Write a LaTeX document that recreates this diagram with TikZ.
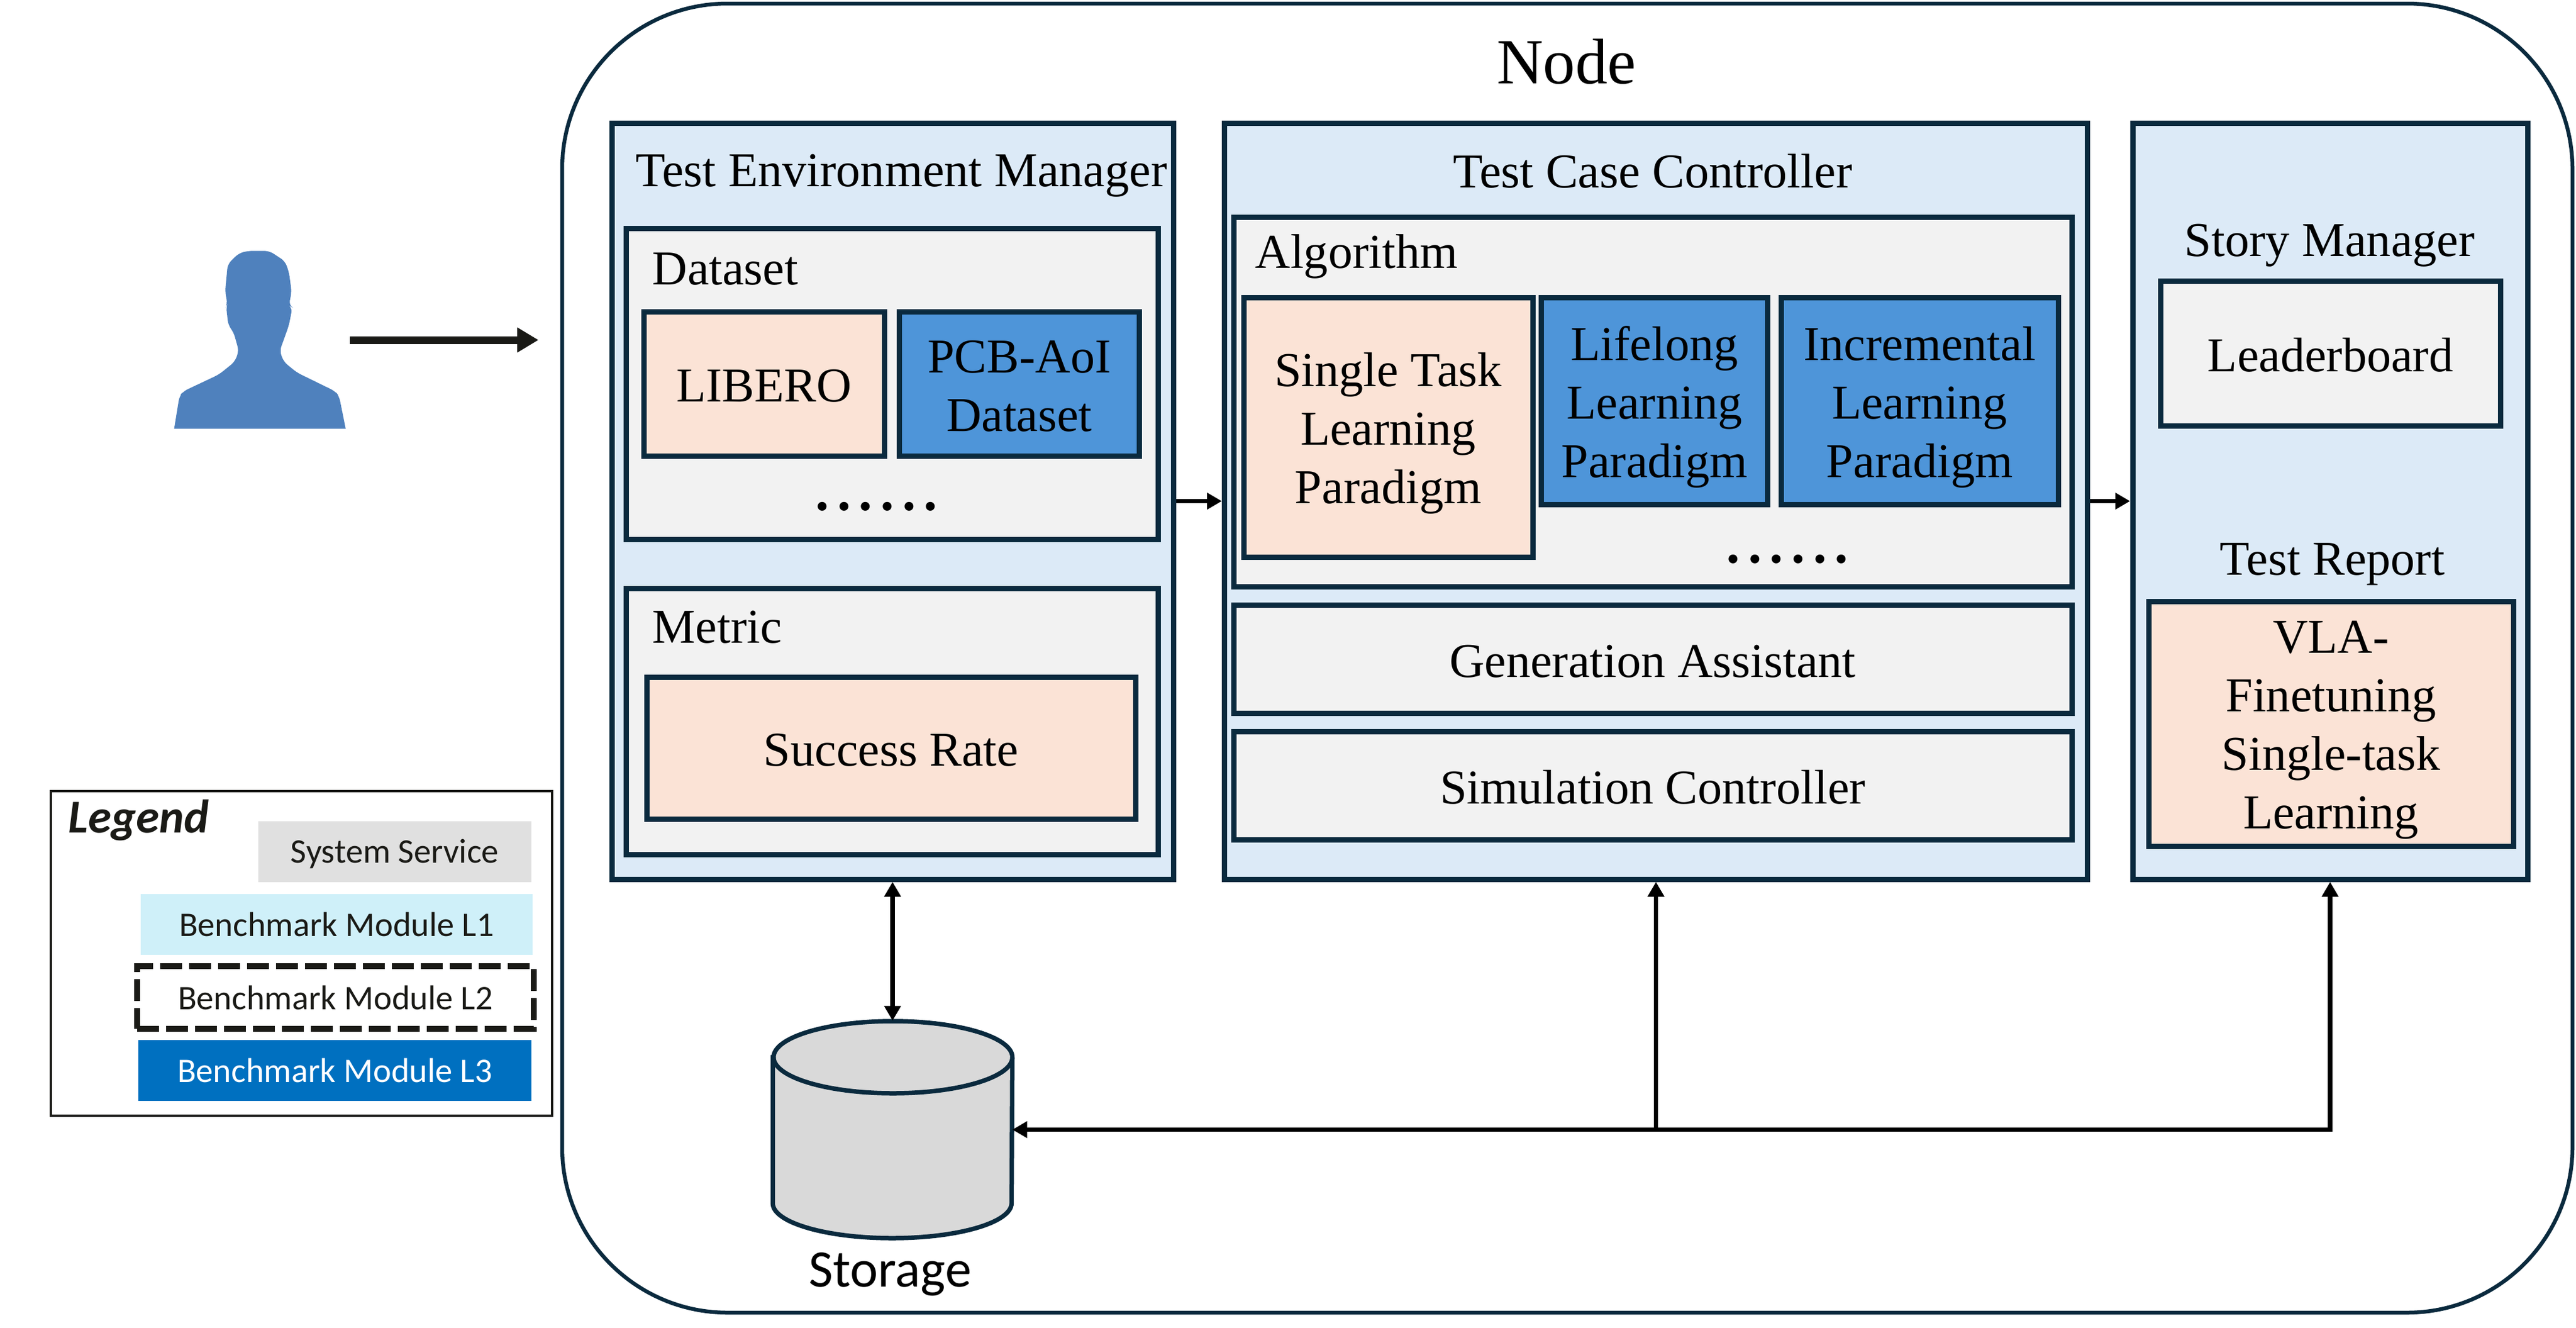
\documentclass[tikz,border=0pt]{standalone}
\usepackage{fontspec}
\usepackage{tikz}
\usetikzlibrary{arrows.meta}
\setmainfont{Liberation Serif}
\newfontfamily\legendfamily{Carlito}
\definecolor{navyline}{HTML}{0A2A3E}
\definecolor{panelblue}{HTML}{DCEAF7}
\definecolor{innergray}{HTML}{F2F2F2}
\definecolor{peach}{HTML}{FBE3D6}
\definecolor{midblue}{HTML}{4E95D9}
\definecolor{personblue}{HTML}{4F81BD}
\definecolor{inkline}{HTML}{1A1A16}
\definecolor{drumgray}{HTML}{D9D9D9}
\definecolor{servicegray}{HTML}{E0E0E0}
\definecolor{levelcyan}{HTML}{CFF0F9}
\definecolor{levelblue}{HTML}{0070C0}
\newcommand{\boxfont}{\fontsize{23.4}{28.2}\selectfont}
\newcommand{\legendfont}{\legendfamily\fontsize{16.6}{20}\selectfont}
\newcommand{\headroom}[1]{\rule{0pt}{#1cm}}

\begin{document}
\begin{tikzpicture}
\useasboundingbox (0,0) rectangle (43.58,-22.45);
\tikzstyle{every node}+=[inner sep=0pt]
\tikzstyle{box}=[draw=navyline, line width=0.09cm, align=center, font=\boxfont]
\tikzstyle{panel}=[box, fill=panelblue]
\tikzstyle{inner}=[box, fill=innergray]
\tikzstyle{warm}=[box, fill=peach]
\tikzstyle{cool}=[box, fill=midblue]
\tikzstyle{caption}=[font=\boxfont, anchor=base]
\tikzstyle{swatch}=[font=\legendfont, minimum height=1.03cm]
\tikzstyle{link}=[line width=0.075cm, black, -{Triangle[length=0.25cm,width=0.27cm]}]
\node [draw=navyline, line width=0.065cm, rounded corners=2.8cm, minimum width=34.01cm, minimum height=22.14cm] (nodebox) at (26.515,-11.13) {};
\node [font=\fontsize{31}{36}\selectfont, anchor=base] (nodelabel) at (26.50,-1.41) {Node};
\node [panel, minimum width=9.50cm, minimum height=12.79cm] (envmgr) at (15.10,-8.475) {};
\node [panel, minimum width=14.60cm, minimum height=12.79cm] (casectl) at (28.015,-8.475) {};
\node [panel, minimum width=6.68cm, minimum height=12.79cm] (storymgr) at (39.42,-8.475) {};
\node [caption, anchor=base west] (envlabel) at (10.75,-3.15) {Test Environment Manager};
\node [caption] (caselabel) at (27.96,-3.17) {Test Case Controller};
\node [caption] (storylabel) at (39.41,-4.33) {Story Manager};
\node [caption] (reportlabel) at (39.46,-9.72) {Test Report};
\node [inner, minimum width=9.00cm, minimum height=5.26cm] (dataset) at (15.094,-6.49) {};
\node [caption, anchor=base west] (datasetlabel) at (11.03,-4.81) {Dataset};
\node [warm, minimum width=4.07cm, minimum height=2.44cm] (libero) at (12.925,-6.49) {\headroom{0.61}LIBERO};
\node [cool, minimum width=4.06cm, minimum height=2.44cm] (pcb) at (17.245,-6.49) {\headroom{0.62}PCB-AoI\\Dataset};
\node [font=\fontsize{36}{36}\selectfont, anchor=base] (datasetdots) at (14.83,-8.62) {.\kern.05cm.\kern.05cm.\kern.05cm.\kern.05cm.\kern.05cm.};
\node [inner, minimum width=9.00cm, minimum height=4.50cm] (metric) at (15.09,-12.20) {};
\node [caption, anchor=base west] (metriclabel) at (11.03,-10.87) {Metric};
\node [warm, minimum width=8.27cm, minimum height=2.40cm] (rate) at (15.075,-12.65) {\headroom{0.62}Success Rate};
\node [inner, minimum width=14.18cm, minimum height=6.25cm] (algo) at (27.96,-6.795) {};
\node [caption, anchor=base west] (algolabel) at (21.23,-4.53) {Algorithm};
\node [warm, minimum width=4.89cm, minimum height=4.39cm] (single) at (23.485,-7.225) {\headroom{0.78}Single Task\\Learning\\Paradigm};
\node [cool, minimum width=3.83cm, minimum height=3.50cm] (lifelong) at (27.99,-6.78) {\headroom{0.78}Lifelong\\Learning\\Paradigm};
\node [cool, minimum width=4.69cm, minimum height=3.50cm] (incremental) at (32.475,-6.78) {\headroom{0.78}Incremental\\Learning\\Paradigm};
\node [font=\fontsize{36}{36}\selectfont, anchor=base] (algodots) at (30.24,-9.51) {.\kern.05cm.\kern.05cm.\kern.05cm.\kern.05cm.\kern.05cm.};
\node [inner, minimum width=14.18cm, minimum height=1.83cm] (genassist) at (27.96,-11.15) {\headroom{0.62}Generation Assistant};
\node [inner, minimum width=14.18cm, minimum height=1.83cm] (simctl) at (27.96,-13.29) {\headroom{0.62}Simulation Controller};
\node [inner, minimum width=5.75cm, minimum height=2.45cm] (leaderboard) at (39.425,-5.975) {\headroom{0.62}Leaderboard};
\node [warm, minimum width=6.17cm, minimum height=4.14cm] (vla) at (39.435,-12.24) {\headroom{0.76}VLA-\\Finetuning\\Single-task\\Learning};
\node [minimum width=4.04cm, minimum height=3.67cm] (storage) at (15.10,-19.105) {};
\filldraw [draw=navyline, fill=drumgray, line width=0.075cm] (storage.north west |- 0,-17.88) -- (storage.south west |- 0,-20.35) arc (180:360:2.02 and 0.59) -- (storage.north east |- 0,-17.88) arc (0:180:2.02 and 0.61) -- cycle;
\draw [navyline, line width=0.075cm] (storage.north east |- 0,-17.88) arc (0:-180:2.02 and 0.61);
\node [font=\legendfamily\fontsize{25.4}{28}\selectfont, anchor=base] (storagelabel) at (15.06,-21.76) {Storage};
\draw [link, {Triangle[length=0.25cm,width=0.27cm]}-{Triangle[length=0.25cm,width=0.27cm]}] (envmgr.south) -- (storage.north);
\draw [link] (envmgr) -- (casectl);
\draw [link] (casectl) -- (storymgr);
\draw [link, {Triangle[length=0.25cm,width=0.27cm]}-{Triangle[length=0.25cm,width=0.27cm]}] (storymgr.south) -- (storymgr.south |- storage.east) -- (storage.east);
\draw [link] (casectl.south |- storage.east) -- (casectl.south);
\fill [personblue] (2.946,-7.25) [rounded corners=0.08cm] -- (3.036,-6.70) -- (3.103,-6.617) -- (3.705,-6.333) -- (3.973,-6.117) -- (4.04,-5.933) -- (3.951,-5.617) -- (3.862,-5.50) -- (3.826,-5.183) -- (3.848,-5.133) -- (3.808,-4.933) -- (3.853,-4.467) -- (4.04,-4.283) -- (4.196,-4.243) -- (4.554,-4.243) -- (4.821,-4.417) -- (4.888,-4.60) -- (4.933,-4.933) -- (4.888,-5.167) -- (4.946,-5.20) -- (4.888,-5.50) -- (4.799,-5.75) -- (4.732,-5.933) -- (4.799,-6.117) -- (5.022,-6.30) -- (5.67,-6.617) -- (5.737,-6.70) [sharp corners] -- (5.848,-7.25) -- cycle;
\node [minimum width=3.02cm, minimum height=3.03cm] (user) at (4.40,-5.75) {};
\coordinate (nodeentry) at (9.11,-5.75);
\draw [inkline, line width=0.13cm, -{Triangle[length=0.36cm,width=0.40cm]}] (user.east) -- (nodeentry);
\node [draw=inkline, line width=0.04cm, minimum width=8.48cm, minimum height=5.49cm] (legend) at (5.10,-16.125) {};
\node [font=\legendfamily\fontsize{22.7}{26}\bfseries\itshape\selectfont, text=inkline, anchor=base west] (legendlabel) at (1.15,-14.08) {Legend};
\node [swatch, fill=servicegray, text=inkline, minimum width=4.62cm, text depth=0.03cm] (service) at (6.68,-14.405) {\headroom{0.40}System Service};
\node [swatch, fill=levelcyan, text=inkline, minimum width=6.63cm] (levelone) at (5.695,-15.63) {Benchmark Module L1};
\node [swatch, draw=inkline, line width=0.105cm, dash pattern=on 0.37cm off 0.12cm, text=inkline, minimum width=6.71cm, minimum height=1.06cm] (leveltwo) at (5.675,-16.87) {Benchmark Module L2};
\node [swatch, fill=levelblue, text=white, minimum width=6.65cm] (levelthree) at (5.665,-18.10) {Benchmark Module L3};
\end{tikzpicture}
\end{document}
